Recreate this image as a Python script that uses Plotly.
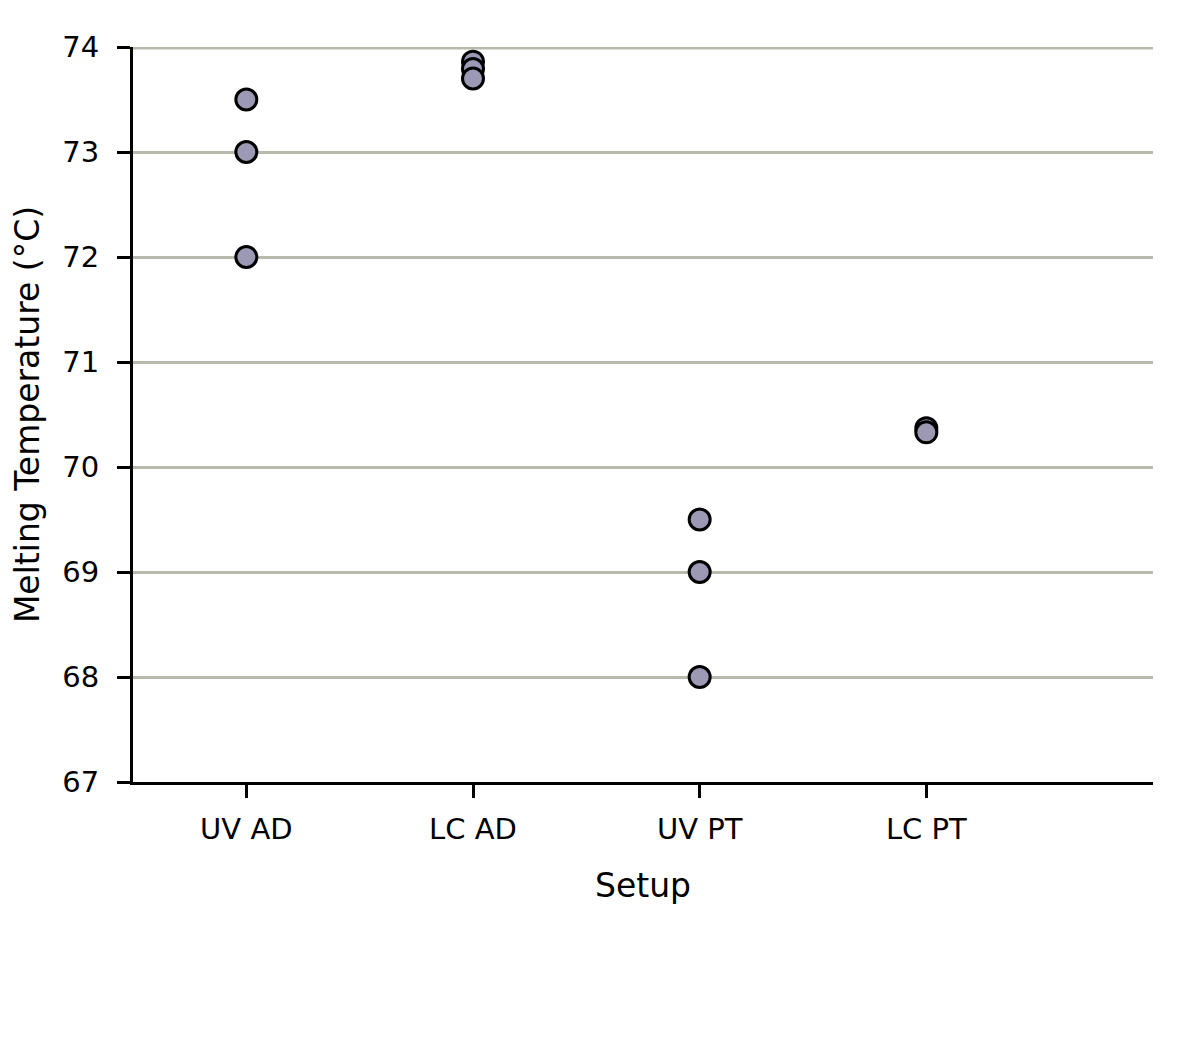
import plotly.graph_objects as go

categories = ["UV AD", "LC AD", "UV PT", "LC PT"]
series_x = ["UV AD", "UV AD", "UV AD", "LC AD", "LC AD", "LC AD", "UV PT", "UV PT", "UV PT", "LC PT", "LC PT"]
series_y = [73.5, 73.0, 72.0, 73.86, 73.79, 73.70, 69.5, 69.0, 68.0, 70.37, 70.33]
y_ticks = [67, 68, 69, 70, 71, 72, 73, 74]

xidx = [categories.index(c) for c in series_x]

fig = go.Figure()
# gridline at the top tick (plotly drops the grid line lying on the range edge; half is clipped)
fig.add_shape(type="line", xref="paper", yref="y", x0=0, x1=1, y0=y_ticks[-1], y1=y_ticks[-1],
              line=dict(color="#b9b9ae", width=5), layer="below")
fig.add_trace(go.Scatter(
    x=xidx, y=series_y, mode="markers",
    marker=dict(size=21, color="#9b99b3", line=dict(color="black", width=3)),
    showlegend=False, cliponaxis=False,
))

font = "DejaVu Sans, Verdana, sans-serif"
fig.update_layout(
    width=1200, height=1039,
    paper_bgcolor="white", plot_bgcolor="white",
    margin=dict(l=125, r=55, t=39, b=265),
    font=dict(family=font, size=28, color="black"),
    xaxis=dict(
        range=[-0.5, 4.0], tickmode="array", tickvals=list(range(len(categories))),
        ticktext=categories, showgrid=False, zeroline=False,
        showline=True, linecolor="black", linewidth=3,
        ticks="outside", ticklen=13, tickwidth=3, tickcolor="black",
        title=dict(text="Setup", font=dict(size=33), standoff=30),
        tickfont=dict(size=29), ticklabelstandoff=6,
    ),
    yaxis=dict(
        range=[67, 74], tickvals=y_ticks, showgrid=True, gridcolor="#b9b9ae", gridwidth=2.5,
        zeroline=False, showline=True, linecolor="black", linewidth=3,
        ticks="outside", ticklen=13, tickwidth=3, tickcolor="black",
        title=dict(text="Melting Temperature (°C)", font=dict(size=33), standoff=18),
        tickfont=dict(size=29), ticklabelstandoff=12,
    ),
)
fig.write_html("out.html")
